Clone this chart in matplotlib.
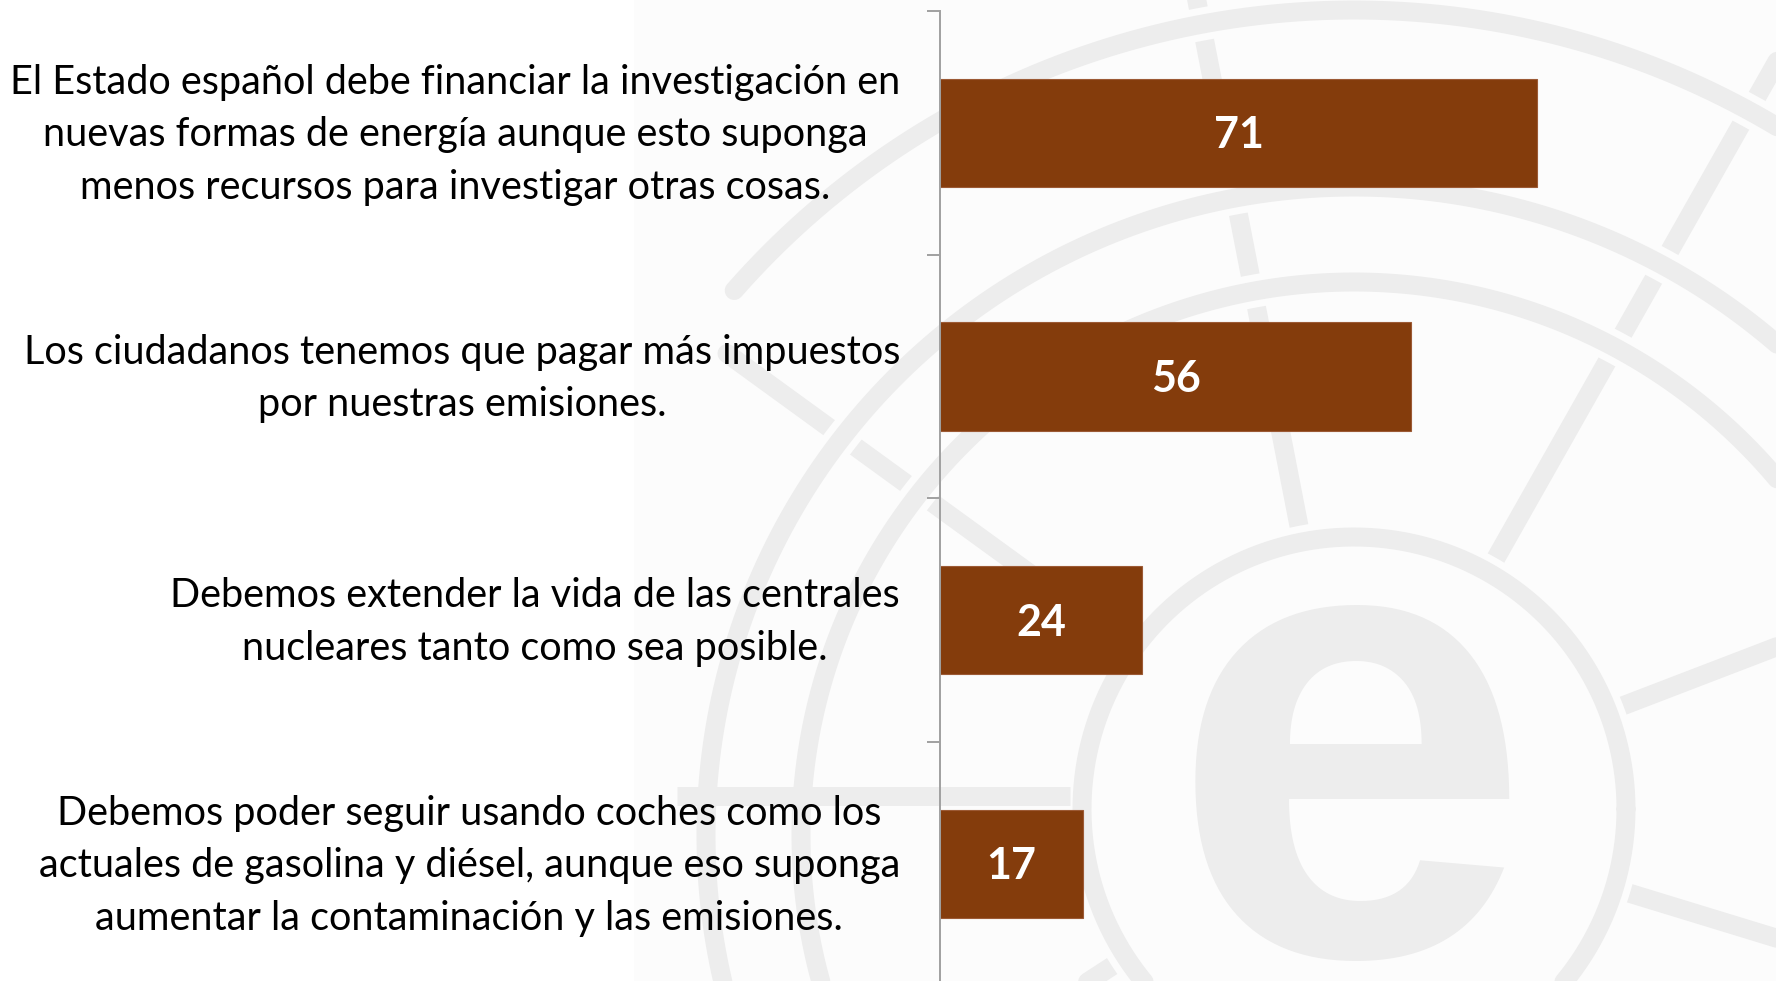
import numpy as np
import matplotlib
matplotlib.use("Agg")
import matplotlib.pyplot as plt
import matplotlib.transforms as mtransforms
from matplotlib.patches import Rectangle

# ---------------------------
# Data
# ---------------------------
labels = [
    "El Estado español debe financiar la investigación en\nnuevas formas de energía aunque esto suponga\nmenos recursos para investigar otras cosas.",
    "Los ciudadanos tenemos que pagar más impuestos\npor nuestras emisiones.",
    "Debemos extender la vida de las centrales\nnucleares tanto como sea posible.",
    "Debemos poder seguir usando coches como los\nactuales de gasolina y diésel, aunque eso suponga\naumentar la contaminación y las emisiones.",
]
values = [71, 56, 24, 17]

BAR_COLOR = "#843C0C"
AXIS_COLOR = "#A0A0A0"
WM_COLOR = "#EDEDED"
BG_COLOR = "#FCFCFC"

W, H, DPI = 1776, 981, 100
PX = 72 / DPI  # points per pixel

fig = plt.figure(figsize=(W / DPI, H / DPI), dpi=DPI, facecolor="white")

# ---------------------------
# Background watermark (logo), drawn in pixel coords
# ---------------------------
wm = fig.add_axes([0, 0, 1, 1], zorder=0)
wm.set_xlim(0, W)
wm.set_ylim(H, 0)
wm.axis("off")
wm.add_patch(Rectangle((634, 0), W - 634, H, color=BG_COLOR, lw=0))

cx, cy_in, cy_out = 1354, 809, 835
ring_w = 19

def arc_xy(cx, cy, r, t0, t1):
    t = np.radians(np.linspace(t0, t1, 400))
    return cx + r * np.cos(t), cy - r * np.sin(t)

# spokes: (angle, r_in, r_out)
spokes = [(101, 272, 1300), (60.5, 272, 1300), (21, 272, 1300), (-17, 272, 1300),
          (144, 272, 775), (213, 272, 1300)]
for ang, r0, r1 in spokes:
    a = np.radians(ang)
    wm.plot([cx + r0 * np.cos(a), cx + r1 * np.cos(a)],
            [cy_in - r0 * np.sin(a), cy_in - r1 * np.sin(a)],
            color=WM_COLOR, lw=ring_w * PX, solid_capstyle="round")

rings = [(cx, cy_in, 272, 0, 360), (cx, cy_out, 553, 0, 360),
         (cx, cy_out, 648, 0, 360), (cx, cy_out, 825, -40, 138.7)]
for rx, ry, r, t0, t1 in rings:
    xs, ys = arc_xy(rx, ry, r, t0, t1)
    wm.plot(xs, ys, color=BG_COLOR, lw=(ring_w + 14) * PX, solid_capstyle="butt")
    wm.plot(xs, ys, color=WM_COLOR, lw=ring_w * PX, solid_capstyle="round")

# horizontal band on the left runs straight through the middle ring
wm.plot([677, 1070], [796, 796], color=WM_COLOR, lw=ring_w * PX, solid_capstyle="butt")

wm.text(1350, 955, "e", fontsize=468, fontweight="bold", family="Liberation Sans",
        color=WM_COLOR, ha="center", va="baseline")

# ---------------------------
# Bar chart
# ---------------------------
ax_left = 940 / W
ax_top = 1 - 11 / H
ax_bottom = 1 - 985.8 / H
ax = fig.add_axes([ax_left, ax_bottom, 841 / W, ax_top - ax_bottom], zorder=1)
ax.patch.set_alpha(0)

y = np.arange(len(values))
ax.barh(y, values, height=0.444, color=BAR_COLOR, edgecolor="#9C5A35", linewidth=0.8)

for yi, v in zip(y, values):
    ax.text(v / 2, yi + 0.01, str(v), ha="center", va="center", color="white",
            fontsize=31, fontweight="bold", family="Lato")

ax.set_xlim(0, 100)
ax.set_ylim(len(values) - 0.5, -0.5)

# category labels, right-aligned 40 px left of the axis, lines centred
lab_tr = ax.get_yaxis_transform() + mtransforms.ScaledTranslation(-40 / DPI, -2 / DPI, fig.dpi_scale_trans)
for yi, lab in zip(y, labels):
    ax.text(0, yi, lab, transform=lab_tr, ha="right", va="center", multialignment="center",
            fontsize=28.5, family="Lato", color="black", linespacing=1.525, clip_on=False)

ax.set_yticks(np.arange(len(values) + 1) - 0.5)
ax.set_yticklabels([])
ax.tick_params(axis="y", length=13 * PX, width=1.4, color=AXIS_COLOR)

ax.xaxis.set_visible(False)
for s in ["top", "right", "bottom"]:
    ax.spines[s].set_visible(False)
ax.spines["left"].set_color(AXIS_COLOR)
ax.spines["left"].set_linewidth(1.4)

fig.savefig("out.png", dpi=DPI, facecolor=fig.get_facecolor())
